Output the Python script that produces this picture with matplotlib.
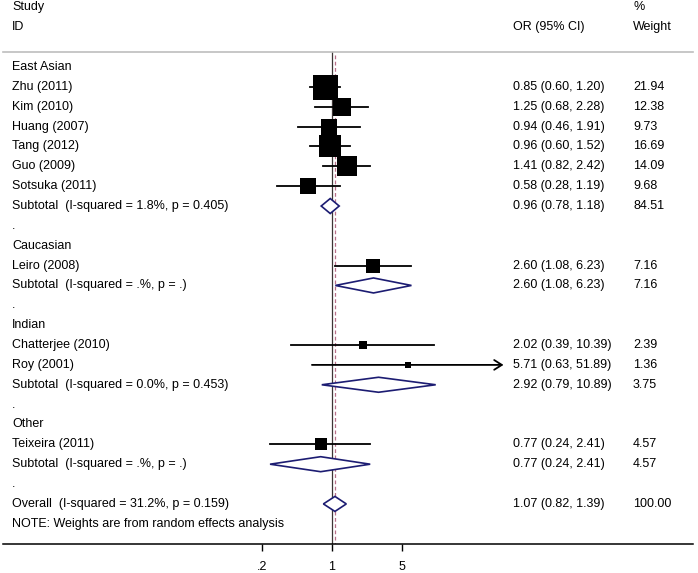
import matplotlib
matplotlib.use("Agg")
import matplotlib.pyplot as plt
from matplotlib.patches import Polygon
import numpy as np

plt.rcParams['font.family'] = ['Liberation Sans', 'DejaVu Sans']

# ---------------- data ----------------
labels = ["East Asian", "Zhu (2011)", "Kim (2010)", "Huang (2007)", "Tang (2012)",
          "Guo (2009)", "Sotsuka (2011)", "Subtotal  (I-squared = 1.8%, p = 0.405)", ".",
          "Caucasian", "Leiro (2008)", "Subtotal  (I-squared = .%, p = .)", ".",
          "Indian", "Chatterjee (2010)", "Roy (2001)", "Subtotal  (I-squared = 0.0%, p = 0.453)", ".",
          "Other", "Teixeira (2011)", "Subtotal  (I-squared = .%, p = .)", ".",
          "Overall  (I-squared = 31.2%, p = 0.159)",
          "NOTE: Weights are from random effects analysis"]
# row type: h=heading, s=study, d=subtotal diamond, b=blank, n=note
kinds = ["h", "s", "s", "s", "s", "s", "s", "d", "b",
         "h", "s", "d", "b",
         "h", "s", "s", "d", "b",
         "h", "s", "d", "b",
         "d", "n"]
orv = [None, 0.85, 1.25, 0.94, 0.96, 1.41, 0.58, 0.96, None,
       None, 2.60, 2.60, None,
       None, 2.02, 5.71, 2.92, None,
       None, 0.77, 0.77, None,
       1.07, None]
lo = [None, 0.60, 0.68, 0.46, 0.60, 0.82, 0.28, 0.78, None,
      None, 1.08, 1.08, None,
      None, 0.39, 0.63, 0.79, None,
      None, 0.24, 0.24, None,
      0.82, None]
hi = [None, 1.20, 2.28, 1.91, 1.52, 2.42, 1.19, 1.18, None,
      None, 6.23, 6.23, None,
      None, 10.39, 51.89, 10.89, None,
      None, 2.41, 2.41, None,
      1.39, None]
weights = [None, 21.94, 12.38, 9.73, 16.69, 14.09, 9.68, 84.51, None,
           None, 7.16, 7.16, None,
           None, 2.39, 1.36, 3.75, None,
           None, 4.57, 4.57, None,
           100.00, None]
arrow_rows = ["Roy (2001)"]
overall_or = 1.07
tick_vals = [0.2, 1, 5]
tick_labels = [".2", "1", "5"]

# ---------------- figure ----------------
W, H, DPI = 698, 573, 100
fig = plt.figure(figsize=(W / DPI, H / DPI), dpi=DPI)
fig.patch.set_facecolor("white")

px_left, px_right = 3, 693
px_axis = 543.5
ax = fig.add_axes([px_left / W, (H - px_axis) / H, (px_right - px_left) / W, px_axis / H])
ax.set_xscale("log")
null_px, per_dec = 332.0, 100.0
ax.set_xlim(10 ** ((px_left - null_px) / per_dec), 10 ** ((px_right - null_px) / per_dec))
row0_px, row_h = 67.0, 19.86
ax.set_ylim((px_axis - row0_px) / row_h, (0 - row0_px) / row_h)

for s in ["top", "right", "left"]:
    ax.spines[s].set_visible(False)
ax.spines["bottom"].set_linewidth(1.1)
ax.set_yticks([])
ax.set_xticks(tick_vals)
ax.set_xticklabels(tick_labels)
ax.xaxis.set_minor_locator(matplotlib.ticker.NullLocator())
ax.tick_params(axis="x", length=5, width=1.0, pad=7.5, labelsize=9, colors="black")

fs = 9
ytr = ax.get_yaxis_transform()
def fx(px):
    return (px - px_left) / (px_right - px_left)

# header
ax.text(fx(12), -3, "Study", transform=ytr, fontsize=fs, va="center", ha="left")
ax.text(fx(12), -2, "ID", transform=ytr, fontsize=fs, va="center", ha="left")
ax.text(fx(513), -2, "OR (95% CI)", transform=ytr, fontsize=fs, va="center", ha="left")
ax.text(fx(633), -3, "%", transform=ytr, fontsize=fs, va="center", ha="left")
ax.text(fx(633), -2, "Weight", transform=ytr, fontsize=fs, va="center", ha="left")
ax.axhline(-0.75, color="#bdbdbd", lw=1.2, xmin=0, xmax=1, clip_on=False)

# reference lines
ax.plot([1, 1], [-0.75, 24], color="#3d3535", lw=0.9, zorder=1)
ax.plot([overall_or, overall_or], [-0.6, 24], color="#b8708a", lw=0.9,
        linestyle=(0, (3, 2)), zorder=1)

half_h = 7.5 / row_h
for k, (lab, kind) in enumerate(zip(labels, kinds)):
    ax.text(fx(12), k, lab, transform=ytr, fontsize=fs, va="center", ha="left")
    if orv[k] is None:
        continue
    ax.text(fx(513), k, f"{orv[k]:.2f} ({lo[k]:.2f}, {hi[k]:.2f})", transform=ytr,
            fontsize=fs, va="center", ha="left")
    ax.text(fx(633), k, f"{weights[k]:.2f}", transform=ytr,
            fontsize=fs, va="center", ha="left")
    if kind == "s":
        if lab in arrow_rows:
            ax.annotate("", xy=(hi[k], k), xytext=(lo[k], k),
                        arrowprops=dict(arrowstyle="->,head_length=0.55,head_width=0.35",
                                        color="black", lw=1.3, shrinkA=0, shrinkB=0),
                        zorder=2)
        else:
            ax.plot([lo[k], hi[k]], [k, k], color="black", lw=1.3, zorder=2)
        ms = 18.0 * np.sqrt(weights[k] / 21.94)
        ax.plot([orv[k]], [k], marker="s", ms=ms, color="black", mec="black", mew=0, zorder=3)
    elif kind == "d":
        poly = Polygon([(lo[k], k), (orv[k], k - half_h), (hi[k], k), (orv[k], k + half_h)],
                       closed=True, facecolor="white", edgecolor="#1c1c72", lw=1.2, zorder=3)
        ax.add_patch(poly)

fig.savefig("out.png", dpi=DPI, facecolor="white")
